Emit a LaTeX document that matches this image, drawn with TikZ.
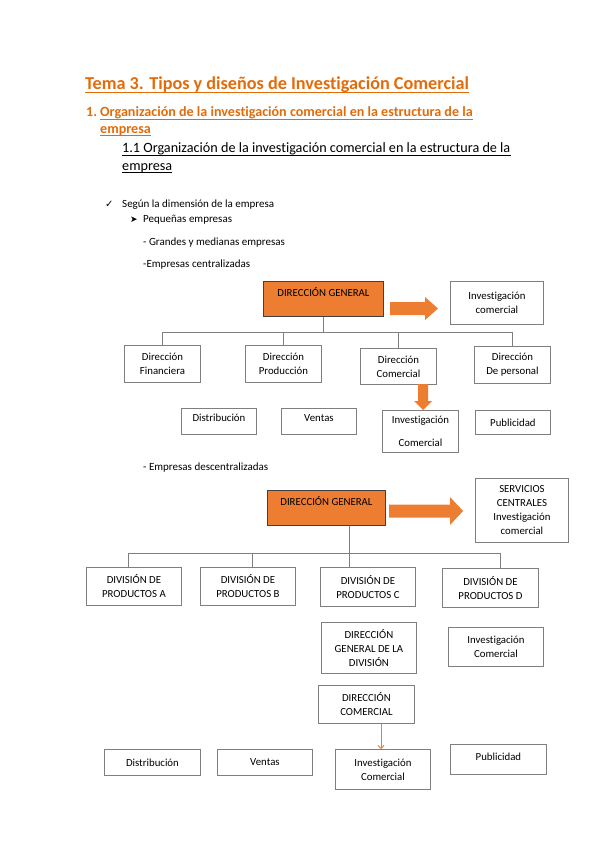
\documentclass[tikz,border=0pt]{standalone}
\usepackage{fontspec}
\setmainfont{Carlito}[Ligatures=NoCommon]
\newfontfamily\symfont{DejaVu Sans}
\usetikzlibrary{arrows.meta}
\definecolor{torange}{HTML}{E36C0A}
\definecolor{borange}{HTML}{ED7D31}
\definecolor{bline}{HTML}{7F7F7F}
\begin{document}
\begin{tikzpicture}[x=1pt,y=-1pt,
  box/.style={draw=bline, line width=0.9pt, anchor=north west, inner sep=1pt, align=center,
    font=\fontsize{10.8}{14}\selectfont, text=black},
  dgbox/.style={box, fill=borange, draw=black!75},
  conn/.style={draw=bline, line width=0.8pt},
  txt/.style={anchor=base west, inner sep=0pt, font=\fontsize{11}{13}\selectfont},
  ulo/.style={draw=torange, line width=0.9pt},
  ulk/.style={draw=black, line width=0.8pt},
  blockarrow/.style={fill=borange, draw=none}]
\useasboundingbox[fill=white] (0,0) rectangle (599,848);

% headings
\node[txt, font=\fontsize{18.2}{20}\selectfont\bfseries, text=torange] (title) at (85,90)
  {Tema 3. Tipos y diseños de Investigación Comercial};
\draw[ulo] ([yshift=-2.5pt]title.base west) -- ([yshift=-2.5pt]title.base east);
\node[txt, font=\fontsize{14}{16}\selectfont\bfseries, text=torange] (h1n) at (86,117) {1.};
\node[txt, font=\fontsize{14.1}{16}\selectfont\bfseries, text=torange] (h1a) at (100,117)
  {Organización de la investigación comercial en la estructura de la};
\draw[ulo] ([yshift=-2.5pt]h1a.base west) -- ([yshift=-2.5pt]h1a.base east);
\node[txt, font=\fontsize{14.1}{16}\selectfont\bfseries, text=torange] (h1b) at (100,133)
  {empresa};
\draw[ulo] ([yshift=-2.5pt]h1b.base west) -- ([yshift=-2.5pt]h1b.base east);
\node[txt, font=\fontsize{14.2}{16}\selectfont] (h2a) at (122,153)
  {1.1 Organización de la investigación comercial en la estructura de la};
\draw[ulk] ([yshift=-2.5pt]h2a.base west) -- ([yshift=-2.5pt]h2a.base east);
\node[txt, font=\fontsize{14.2}{16}\selectfont] (h2b) at (122,170) {empresa};
\draw[ulk] ([yshift=-2.5pt]h2b.base west) -- ([yshift=-2.5pt]h2b.base east);

% bullets
\node[txt, font=\fontsize{10}{10}\symfont] (chk) at (105,207) {✓};
\node[txt] (b1) at (122,207) {Según la dimensión de la empresa};
\node[txt, font=\fontsize{9}{9}\symfont] (arr) at (130,222) {➤};
\node[txt] (b2) at (143,222) {Pequeñas empresas};
\node[txt] (b3) at (143,245) {- Grandes y medianas empresas};
\node[txt] (b4) at (143,267) {-Empresas centralizadas};
\node[txt] (b5) at (143,470) {- Empresas descentralizadas};

% ---------- chart 1
\node[dgbox, minimum width=120pt, minimum height=35pt, text depth=13pt] (dg) at (263,281) {DIRECCIÓN GENERAL};
\node[box, minimum width=93pt, minimum height=43pt] (inv1) at (450,281) {Investigación\\comercial};
\node[box, minimum width=76pt, minimum height=37pt] (fin) at (124,345) {Dirección\\Financiera};
\node[box, minimum width=76pt, minimum height=37pt] (prod) at (245,345) {Dirección\\Producción};
\node[box, minimum width=76pt, minimum height=36pt] (com) at (360,348) {Dirección\\Comercial};
\node[box, minimum width=76pt, minimum height=37pt] (per) at (474,346) {Dirección\\De personal};
\node[box, minimum width=75pt, minimum height=26pt, text depth=7pt] (dist1) at (181,408) {Distribución};
\node[box, minimum width=75pt, minimum height=26pt, text depth=7pt] (ven1) at (281,408) {Ventas};
\node[box, minimum width=76pt, minimum height=42pt] (invc1) at (382,410) {Investigación\\[9pt]Comercial};
\node[box, minimum width=75pt, minimum height=24pt] (pub1) at (475,410) {Publicidad};

\coordinate (bar1) at (0,332);
\draw[conn] (dg.south) -- (dg.south |- bar1);
\draw[conn] (fin.north |- bar1) -- (per.north |- bar1);
\foreach \n in {fin,prod,com,per} \draw[conn] (\n.north |- bar1) -- (\n.north);

\fill[blockarrow] (390,302) -- (425,302) -- (425,297) -- (438,308.5) -- (425,320) -- (425,315) -- (390,315) -- cycle;
\fill[blockarrow] (418,384) -- (428,384) -- (428,401) -- (432,401) -- (423,410) -- (414,401) -- (418,401) -- cycle;

% ---------- chart 2
\node[dgbox, minimum width=118pt, minimum height=35pt, text depth=13pt] (dg2) at (267,490) {DIRECCIÓN GENERAL};
\node[box, minimum width=93pt, minimum height=64pt] (serv) at (475,478) {SERVICIOS\\CENTRALES\\Investigación\\comercial};
\node[box, minimum width=95pt, minimum height=38pt] (pa) at (86,567) {DIVISIÓN DE\\PRODUCTOS A};
\node[box, minimum width=95pt, minimum height=38pt] (pb) at (200,567) {DIVISIÓN DE\\PRODUCTOS B};
\node[box, minimum width=95pt, minimum height=39pt] (pc) at (320,567) {DIVISIÓN DE\\PRODUCTOS C};
\node[box, minimum width=96pt, minimum height=39pt] (pd) at (442,568) {DIVISIÓN DE\\PRODUCTOS D};
\node[box, minimum width=95pt, minimum height=51pt] (dgd) at (321,622) {DIRECCIÓN\\GENERAL DE LA\\DIVISIÓN};
\node[box, minimum width=95pt, minimum height=39pt] (invc2) at (448,627) {Investigación\\Comercial};
\node[box, minimum width=96pt, minimum height=38pt] (dcom) at (318,685) {DIRECCIÓN\\COMERCIAL};
\node[box, minimum width=96pt, minimum height=26pt] (dist2) at (104,749) {Distribución};
\node[box, minimum width=95pt, minimum height=26pt] (ven2) at (217,749) {Ventas};
\node[box, minimum width=95pt, minimum height=40pt] (invc3) at (335,749) {Investigación\\Comercial};
\node[box, minimum width=96pt, minimum height=30pt, text depth=6pt] (pub2) at (450,744) {Publicidad};

\coordinate (bar2) at (0,553);
\draw[conn] (dg2.south -| 349,0) -- (pc.north -| 349,0);
\draw[conn] (128,553) -- (500,553);
\draw[conn] (128,553) -- (pa.north -| 128,0);
\draw[conn] (252,553) -- (pb.north -| 252,0);
\draw[conn] (500,553) -- (pd.north -| 500,0);

\fill[blockarrow] (389,504.5) -- (450,504.5) -- (450,497) -- (463,511) -- (450,525) -- (450,517.5) -- (389,517.5) -- cycle;
\draw[borange, line width=0.8pt, -{Straight Barb[length=3pt,width=6pt]}] (dcom.south -| 381,0) -- (invc3.north -| 381,0);
\end{tikzpicture}
\end{document}
